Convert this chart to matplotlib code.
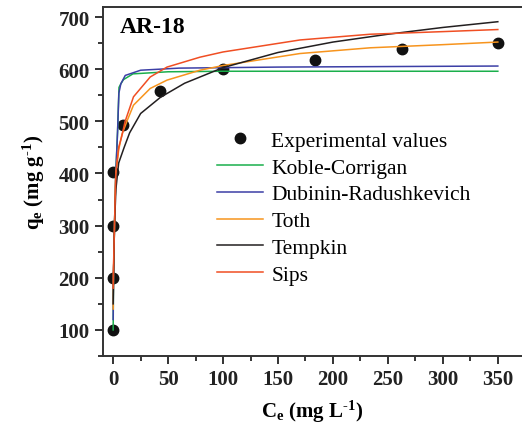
import numpy as np
import matplotlib
matplotlib.use('Agg')
import matplotlib.pyplot as plt
from matplotlib.ticker import MultipleLocator

# experimental points
ce_exp = [0.0, 0.0, 0.0, 0.3, 8.8, 43, 100, 184, 263, 350]
qe_exp = [100, 200, 300, 403, 493, 558, 600, 617, 638, 651]

# model curves
kc_x = [0.0, 0.3, 1.2, 2.4, 4.0, 5.3, 7.0, 9.4, 18, 50, 100, 200, 350]
kc_y = [100, 200, 300, 400, 480, 565, 572, 580, 591, 595, 596, 596, 596]

dr_x = [0.0, 0.3, 1.2, 2.4, 4.0, 5.2, 7.0, 11, 25, 60, 150, 250, 350]
dr_y = [120, 200, 300, 400, 480, 554, 572, 588, 598, 602, 604, 605, 606]

toth_x = [0.0, 0.3, 1.2, 2.4, 5, 8, 12.5, 18.5, 33.7, 49, 79, 100, 170, 234, 300, 350]
toth_y = [140, 210, 300, 400, 445, 475, 500, 531, 563, 579, 598, 607, 630, 641, 647, 652]

temp_x = [0.0, 0.3, 1.2, 2.5, 5, 10, 15, 25, 43, 65, 100, 150, 200, 250, 300, 350]
temp_y = [150, 200, 300, 370, 420, 450, 478, 515, 546, 573, 603, 632, 652, 667, 680, 691]

sips_x = [0.0, 0.3, 1.2, 2.4, 5, 7.9, 10.9, 18.5, 33.7, 49, 79, 100, 170, 234, 300, 350]
sips_y = [180, 220, 300, 400, 450, 472, 500, 547, 585, 604, 623, 633, 656, 667, 672, 676]

names = ['Koble-Corrigan', 'Dubinin-Radushkevich', 'Toth', 'Tempkin', 'Sips']
colors = ['#1aaf4b', '#3c3fa6', '#f7941d', '#231f20', '#f04e23']

plt.rcParams['font.family'] = 'Liberation Serif'
plt.rcParams['mathtext.fontset'] = 'custom'
plt.rcParams['mathtext.rm'] = 'Liberation Serif:bold'
plt.rcParams['mathtext.default'] = 'rm'

fig = plt.figure(figsize=(5.22, 4.27), dpi=100)
ax = fig.add_axes([0.197, 0.164, 0.803, 0.817])

ax.plot(ce_exp, qe_exp, 'o', color='#111111', markersize=7.5, linestyle='none',
        label='Experimental values', zorder=2)
curves = [(kc_x, kc_y), (dr_x, dr_y), (toth_x, toth_y), (temp_x, temp_y), (sips_x, sips_y)]
for (xs, ys), nm, c in zip(curves, names, colors):
    ax.plot(xs, ys, color=c, lw=1.1, label=nm, zorder=3)

ax.set_xlim(-9.4, 372)
ax.set_ylim(50, 719)
ax.xaxis.set_major_locator(MultipleLocator(50))
ax.xaxis.set_minor_locator(MultipleLocator(25))
ax.yaxis.set_major_locator(MultipleLocator(100))
ax.yaxis.set_minor_locator(MultipleLocator(50))
ax.tick_params(which='major', direction='out', length=6, width=1.3, labelsize=15, colors='#222222')
ax.tick_params(which='minor', direction='out', length=3.5, width=1.1)
for lab in ax.get_xticklabels() + ax.get_yticklabels():
    lab.set_fontweight('bold')

for s in ['left', 'bottom', 'top']:
    ax.spines[s].set_linewidth(1.4)
    ax.spines[s].set_color('#333333')
ax.spines['right'].set_visible(False)

ax.set_xlabel(r'C$_\mathrm{e}$ (mg L$^{\text{-}1}$)', fontsize=15, fontweight='bold', labelpad=6)
ax.set_ylabel(r'q$_\mathrm{e}$ (mg g$^{\text{-}1}$)', fontsize=15, fontweight='bold', labelpad=8)

ax.text(0.04, 0.975, 'AR-18', transform=ax.transAxes, fontsize=17, fontweight='bold',
        va='top', ha='left')

ax.legend(loc='upper left', bbox_to_anchor=(0.251, 0.67), frameon=False, fontsize=15.5,
          handlelength=2.14, handletextpad=0.4, labelspacing=0.31, borderaxespad=0)

fig.savefig('out.png', dpi=100)
